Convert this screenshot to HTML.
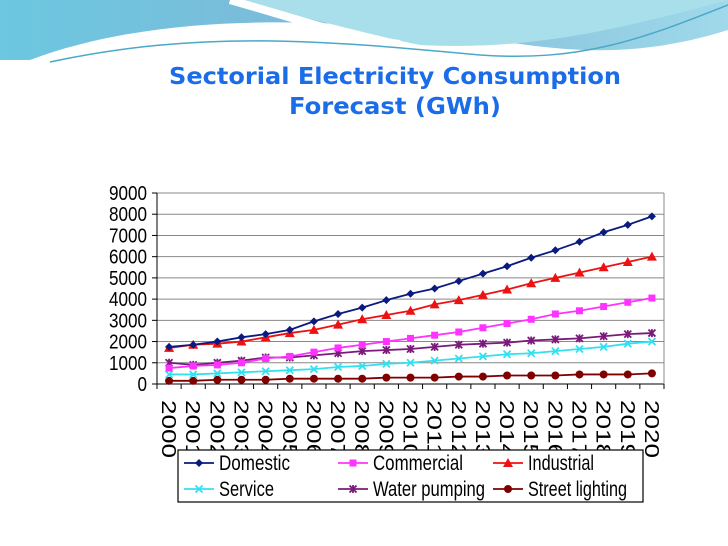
<!DOCTYPE html>
<html><head><meta charset="utf-8"><style>
html,body{margin:0;padding:0;background:#fff;}
#wrap{position:relative;width:728px;height:546px;overflow:hidden;background:#fff;font-family:"Liberation Sans",Arial,sans-serif;}
</style></head><body>
<div id="wrap">
<svg width="728" height="546" style="position:absolute;left:0;top:0">
 <defs>
  <linearGradient id="hg" x1="0" y1="0" x2="1" y2="0">
   <stop offset="0" stop-color="#6cc7e0"/><stop offset="0.5" stop-color="#7fb9d8"/><stop offset="1" stop-color="#9fd9ea"/>
  </linearGradient>
 </defs>
 <g>
  <path d="M0 0 H728 V30 C600 70 520 40 420 30 C300 18 150 15 30 60 L0 60 Z" fill="url(#hg)"/>
  <path d="M230 0 C300 15 370 35 420 45 C520 50 600 35 728 0 Z" fill="#a9dfea"/>
  <path d="M230 0 C300 20 360 40 400 44" stroke="#fff" stroke-width="8" fill="none"/>
  <path d="M50 62 C200 30 320 40 480 55 C580 62 640 40 728 5" stroke="#4aa8c8" stroke-width="1.5" fill="none"/>
 </g>
 <text x="395" y="84" text-anchor="middle" font-size="23" font-weight="bold" fill="#1a6ce8" font-family="DejaVu Sans, sans-serif" textLength="452" lengthAdjust="spacingAndGlyphs">Sectorial Electricity Consumption</text>
 <text x="395" y="114" text-anchor="middle" font-size="23" font-weight="bold" fill="#1a6ce8" font-family="DejaVu Sans, sans-serif" textLength="212" lengthAdjust="spacingAndGlyphs">Forecast (GWh)</text>
 <g id="chart"></g>
</svg>
</div>
<script>
const years=["2000","2001","2002","2003","2004","2005","2006","2007","2008","2009","2010","2011","2012","2013","2014","2015","2016","2017","2018","2019","2020"];
const yTicks=[0,1000,2000,3000,4000,5000,6000,7000,8000,9000];
const domestic=[1750,1850,2000,2200,2350,2550,2950,3300,3600,3950,4250,4500,4850,5200,5550,5950,6300,6700,7150,7500,7900];
const commercial=[750,850,900,1000,1200,1300,1500,1700,1850,2000,2150,2300,2450,2650,2850,3050,3300,3450,3650,3850,4050];
const industrial=[1700,1850,1900,2000,2200,2400,2550,2800,3050,3250,3450,3750,3950,4200,4450,4750,5000,5250,5500,5750,6000];
const service=[450,450,500,550,600,650,700,800,850,950,1000,1100,1200,1300,1400,1450,1550,1650,1750,1900,2000];
const waterPumping=[1000,900,1000,1100,1250,1250,1350,1450,1550,1600,1650,1750,1850,1900,1950,2050,2100,2150,2250,2350,2400];
const streetLighting=[150,150,200,200,200,250,250,250,250,300,300,300,350,350,400,400,400,450,450,450,500];
const seriesNames=["Domestic","Commercial","Industrial","Service","Water pumping","Street lighting"];

const NS="http://www.w3.org/2000/svg";
const g=document.getElementById('chart');
function el(t,a,p){const e=document.createElementNS(NS,t);for(const k in a)e.setAttribute(k,a[k]);(p||g).appendChild(e);return e;}
const L=157,R=664,T=193,B=384,yMax=9000;
const step=(R-L)/years.length;
const xs=i=>L+step*(i+0.5);
const ys=v=>B-(v/yMax)*(B-T);

const bg=el('rect',{x:95,y:172,width:580,height:334,fill:'#fff'});


yTicks.forEach(v=>{
 const ln=el('line',{x1:L,x2:R,y1:ys(v),y2:ys(v),stroke:v===0?'#000':'#888','stroke-width':1});
 
 
 const tk=el('line',{x1:L-5,x2:L,y1:ys(v),y2:ys(v),stroke:'#000'});
 
 
 const t=el('text',{x:L-10,y:ys(v)+7,'text-anchor':'end','font-size':20,textLength:String(v).length*9.5,lengthAdjust:'spacingAndGlyphs',fill:'#000'});
 t.textContent=v;
 
 
});
const ax=el('line',{x1:L,x2:L,y1:T,y2:B,stroke:'#000'});


const rb=el('line',{x1:R,x2:R,y1:T,y2:B,stroke:'#888'});


years.forEach((y,i)=>{
 const tk=el('line',{x1:L+step*i,x2:L+step*i,y1:B,y2:B+5,stroke:'#000'});
 
 
 const t=el('text',{transform:`translate(${xs(i)-7},400) rotate(90)`,'font-size':20,textLength:58,lengthAdjust:'spacingAndGlyphs',fill:'#000'});
 t.textContent=y;
 
 
});
const tk2=el('line',{x1:R,x2:R,y1:B,y2:B+5,stroke:'#000'});



function marker(kind,x,y,c,parent){
 let m;
 if(kind==='diamond')m=el('polygon',{points:`${x},${y-4} ${x+4},${y} ${x},${y+4} ${x-4},${y}`,fill:c},parent);
 else if(kind==='square')m=el('rect',{x:x-3.5,y:y-3.5,width:7,height:7,fill:c},parent);
 else if(kind==='triangle')m=el('polygon',{points:`${x},${y-5} ${x+5},${y+4} ${x-5},${y+4}`,fill:c},parent);
 else if(kind==='circle')m=el('circle',{cx:x,cy:y,r:4,fill:c},parent);
 else if(kind==='x'){m=el('path',{d:`M${x-3.5} ${y-3.5}L${x+3.5} ${y+3.5}M${x+3.5} ${y-3.5}L${x-3.5} ${y+3.5}`,stroke:c,'stroke-width':1.8},parent);}
 else {m=el('path',{d:`M${x-3.5} ${y-3.5}L${x+3.5} ${y+3.5}M${x+3.5} ${y-3.5}L${x-3.5} ${y+3.5}M${x} ${y-4}L${x} ${y+4}`,stroke:c,'stroke-width':1.8},parent);}
 
 
}
const series=[
 {name:'street-lighting',data:streetLighting,c:'#800000',m:'circle'},
 {name:'service',data:service,c:'#33e0f0',m:'x'},
 {name:'water-pumping',data:waterPumping,c:'#7a1a7a',m:'star'},
 {name:'commercial',data:commercial,c:'#ff33ff',m:'square'},
 {name:'industrial',data:industrial,c:'#ee1111',m:'triangle'},
 {name:'domestic',data:domestic,c:'#0a1a80',m:'diamond'}
];
series.forEach(s=>{
 const grp=el('g',{});
 
 
 const pl=el('polyline',{points:s.data.map((v,i)=>xs(i)+','+ys(v)).join(' '),fill:'none',stroke:s.c,'stroke-width':1.8},grp);
 
 
 s.data.forEach((v,i)=>marker(s.m,xs(i),ys(v),s.c,grp));
});

const lg=el('g',{});


const lb=el('rect',{x:178,y:450,width:465,height:52,fill:'#fff',stroke:'#000','stroke-width':1.2},lg);


const legendItems=[
 {n:seriesNames[0],c:'#0a1a80',m:'diamond',x:184,y:463,w:71},
 {n:seriesNames[1],c:'#ff33ff',m:'square',x:338,y:463,w:90},
 {n:seriesNames[2],c:'#ee1111',m:'triangle',x:493,y:463,w:66},
 {n:seriesNames[3],c:'#33e0f0',m:'x',x:184,y:489,w:55},
 {n:seriesNames[4],c:'#7a1a7a',m:'star',x:338,y:489,w:112},
 {n:seriesNames[5],c:'#800000',m:'circle',x:493,y:489,w:99}
];
legendItems.forEach(it=>{
 const e=el('g',{},lg);
 
 
 el('line',{x1:it.x,x2:it.x+30,y1:it.y,y2:it.y,stroke:it.c,'stroke-width':1.8},e);
 marker(it.m,it.x+15,it.y,it.c,e);
 const t=el('text',{x:it.x+35,y:it.y+7,'font-size':21,textLength:it.w,lengthAdjust:'spacingAndGlyphs',fill:'#000'},e);
 t.textContent=it.n;
 
 
});
</script>
</body></html>
